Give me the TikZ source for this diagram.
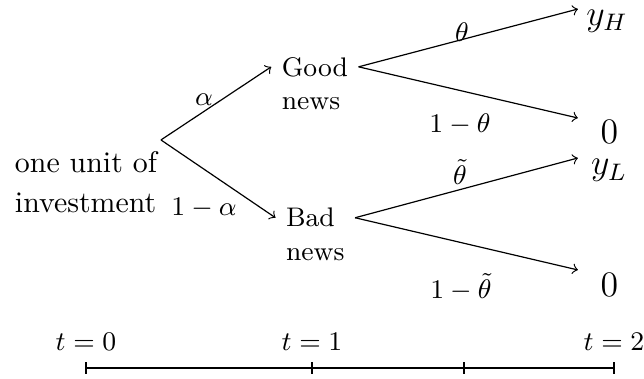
\documentclass[tikz,border=0pt]{standalone}
\usepackage{amsmath}
\usetikzlibrary{positioning,calc}

\begin{document}
\begin{tikzpicture}[font=\small,
    payoff/.style={font=\large,anchor=base},
    newsline/.style={anchor=north west}]
  \useasboundingbox (0,0) rectangle (7.574,4.457);
  % date 0
  \coordinate (root) at (1.893,2.811);
  \node[font=\normalsize,align=left] (invest) at (1.011,2.311) {one unit of\\[1.4pt]investment};
  % date 1
  \node[anchor=west] (good) at (3.19,3.671) {Good};
  \node[newsline] (goodnews) at (good.south west) {news};
  \node[anchor=west] (bad) at (3.24,1.896) {Bad};
  \node[newsline] (badnews) at (bad.south west) {news};
  \draw[->] (root) -- (good.west);
  \draw[->] (root) -- (bad.west);
  \node (alpha) at (2.399,3.281) {$\alpha$};
  \node (nalpha) at (2.399,2.011) {$1-\alpha$};
  % date 2
  \coordinate (tipH) at (6.797,4.351);
  \coordinate (tipG0) at (6.797,3.069);
  \coordinate (tipL) at (6.797,2.599);
  \coordinate (tipB0) at (6.797,1.282);
  \node[payoff] (yH) at (7.138,4.157) {$y_H$};
  \node[payoff] (zeroG) at (7.168,2.764) {$0$};
  \node[payoff] (yL) at (7.162,2.399) {$y_L$};
  \node[payoff] (zeroB) at (7.168,0.964) {$0$};
  \draw[->] (good.east) -- (tipH);
  \draw[->] (good.east) -- (tipG0);
  \draw[->] (bad.east -| badnews.east) -- (tipL);
  \draw[->] (bad.east -| badnews.east) -- (tipB0);
  \node (theta) at (5.433,4.084) {$\theta$};
  \node (ntheta) at (5.41,2.999) {$1-\theta$};
  \node (ttheta) at (5.41,2.434) {$\tilde{\theta}$};
  \node (nttheta) at (5.421,1.082) {$1-\tilde{\theta}$};
  % time line
  \coordinate (start) at (1.011,0.129);
  \coordinate (stop) at (7.221,0.129);
  \draw (start) -- (stop);
  \foreach \x in {1.011,3.669,5.457,7.221}
    \draw (\x,0.064) -- (\x,0.194);
  \foreach \x/\t in {1.011/0,3.669/1,7.221/2}
    \node[anchor=base] (t\t) at (\x,0.329) {$t=\t$};
\end{tikzpicture}
\end{document}
